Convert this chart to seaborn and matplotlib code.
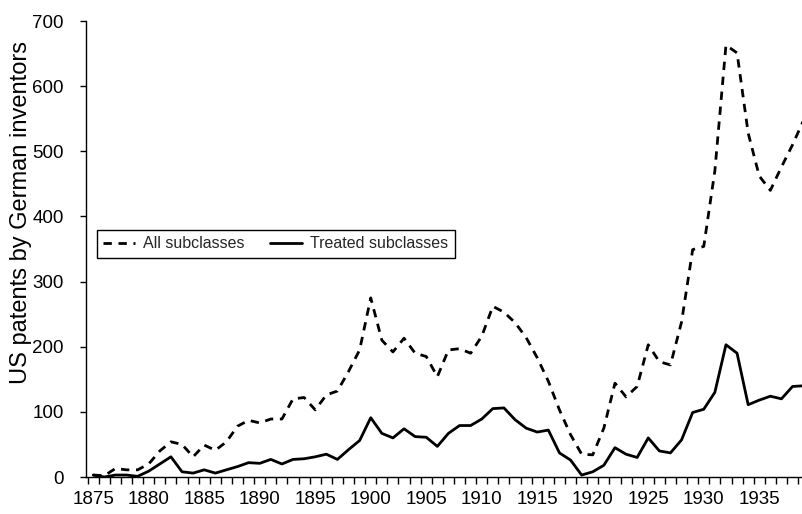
import numpy as np
import pandas as pd
import matplotlib
matplotlib.use("Agg")
import matplotlib.pyplot as plt
import seaborn as sns

years = list(range(1875, 1940))
all_subclasses = [3, 2, 13, 11, 11, 20, 40, 54, 50, 31,
                  49, 41, 54, 78, 87, 83, 89, 89, 120, 122,
                  103, 126, 132, 162, 195, 275, 210, 192, 213, 190,
                  185, 154, 195, 197, 190, 216, 262, 253, 237, 214,
                  183, 147, 103, 65, 35, 34, 75, 144, 123, 139,
                  203, 177, 172, 238, 349, 354, 470, 663, 651, 528,
                  462, 440, 476, 510, 548]
treated_subclasses = [3, 0, 3, 3, 1, 9, 20, 31, 8, 6,
                      11, 6, 11, 16, 22, 21, 27, 20, 27, 28,
                      31, 35, 27, 42, 56, 91, 67, 60, 74, 62,
                      61, 47, 67, 79, 79, 89, 105, 106, 88, 75,
                      69, 72, 37, 26, 3, 8, 18, 45, 35, 30,
                      60, 40, 37, 57, 99, 104, 130, 203, 190, 111,
                      118, 124, 120, 139, 140]
xtick_labels = list(range(1875, 1940, 5))
yticks = list(range(0, 701, 100))
y_label = "US patents by German inventors"

sns.set_theme(style="white")
plt.rcParams['font.family'] = ['Liberation Sans', 'DejaVu Sans']

fig = plt.figure(figsize=(8.02, 5.14), dpi=100)
ax = fig.add_axes([86 / 802, 1 - 477 / 514, 1 - 86 / 802, (477 - 21) / 514])

sns.lineplot(x=years, y=all_subclasses, ax=ax, color="black", linewidth=2.0,
             linestyle=(0, (3.0, 2.4)), label="All subclasses")
sns.lineplot(x=years, y=treated_subclasses, ax=ax, color="black", linewidth=2.0,
             label="Treated subclasses")

ax.set_xlim(1874.35, 1938.85)
ax.set_ylim(0, 700)
ax.set_xticks(xtick_labels)
ax.set_xticklabels([str(y) for y in xtick_labels], fontsize=13.5)
ax.set_xticks(np.arange(1874.5, 1939.0, 1.0), minor=True)
ax.set_yticks(yticks)
ax.set_yticklabels([str(v) for v in yticks], fontsize=13.5)
ax.tick_params(axis="x", which="major", length=0, pad=10, colors="black")
ax.tick_params(axis="x", which="minor", length=5, width=1, direction="out",
               bottom=True, color="black")
ax.tick_params(axis="y", which="major", length=4, width=1, direction="out",
               left=True, colors="black", pad=12)
ax.set_ylabel(y_label, fontsize=17, color="black")
ax.yaxis.set_label_coords((32 - 86) / 716, 0.58)
ax.set_xlabel("")

for side in ["top", "right"]:
    ax.spines[side].set_visible(False)
for side in ["left", "bottom"]:
    ax.spines[side].set_color("black")
    ax.spines[side].set_linewidth(1.0)
ax.grid(False)

leg = ax.legend(loc="upper left", bbox_to_anchor=((97 - 86) / 716, (477 - 230) / 456),
                borderaxespad=0, ncol=2, fontsize=11.5, frameon=True, fancybox=False,
                handlelength=2.0, handletextpad=0.5, columnspacing=1.6,
                borderpad=0.4)
leg.get_frame().set_edgecolor("black")
leg.get_frame().set_linewidth(1.0)
leg.get_frame().set_facecolor("white")
leg.get_frame().set_alpha(1)

fig.savefig("out.png", dpi=100)
